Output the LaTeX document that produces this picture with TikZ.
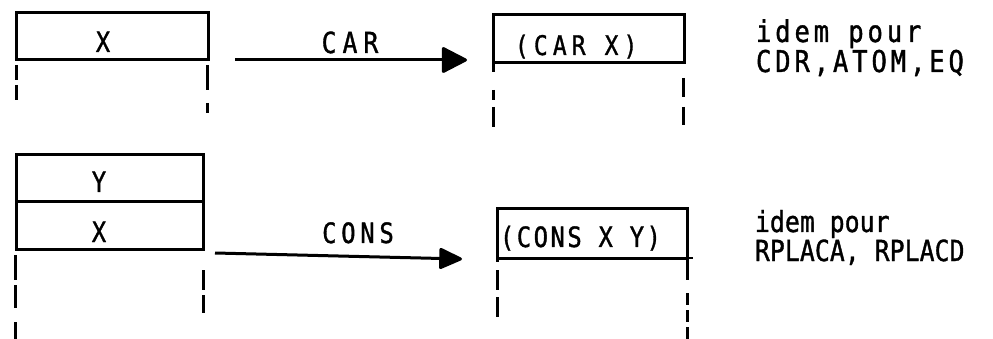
\documentclass[tikz,border=0pt]{standalone}
\usepackage{fontspec}
\usetikzlibrary{arrows.meta,calc}
\newfontfamily\twA[FakeStretch=0.85,FakeBold=1.2]{DejaVu Sans Mono}
\newfontfamily\twB[FakeStretch=0.85,FakeBold=1.2,LetterSpace=9]{DejaVu Sans Mono}
\newfontfamily\twC[FakeStretch=0.85,FakeBold=1.2,LetterSpace=13]{DejaVu Sans Mono}
\newfontfamily\twD[FakeStretch=0.85,FakeBold=1.2,LetterSpace=19]{DejaVu Sans Mono}
\newfontfamily\twE[FakeStretch=0.85,FakeBold=1.2,LetterSpace=21]{DejaVu Sans Mono}
\newfontfamily\twF[FakeStretch=0.85,FakeBold=1.2,LetterSpace=17]{DejaVu Sans Mono}
\newfontfamily\twG[FakeStretch=0.85,FakeBold=1.2,LetterSpace=0.5]{DejaVu Sans Mono}
\begin{document}
\begin{tikzpicture}[x=1pt,y=-1pt,
  cell/.style={draw,line width=3pt,inner sep=0pt,outer sep=0pt},
  lbl/.style={inner sep=0pt,outer sep=0pt,anchor=base},
  lblw/.style={inner sep=0pt,outer sep=0pt,anchor=base west,align=left},
  ext/.style={line width=3pt},
  dsh/.style={line width=3pt},
  arr/.style={line width=3pt,-{Triangle[length=27pt,width=27pt,round]}}]
\useasboundingbox (0,0) rectangle (993,339);
% ---------- top row ----------
\node[cell,minimum width=192pt,minimum height=47pt] (bx) at (112,36.5) {};
\node[lbl,font=\twA\fontsize{28}{32}\selectfont] (tx) at (103,52) {X};
\draw[dsh,dash pattern=on 15pt off 5pt] (16,65) -- (16,100);
\draw[dsh,dash pattern=on 25pt off 13pt] (207,65) -- (207,113);

\coordinate (carS) at (235,60);
\coordinate (carE) at (467,60);
\draw[arr] (carS) -- (carE);
\node[lbl,font=\twE\fontsize{29}{33}\selectfont] (tcar) at (350,53) {CAR};

\node[cell,minimum width=191pt,minimum height=48pt] (bcar) at (588.5,39) {};
\draw[ext] (bcar.south west) -- ++(0,9);
\node[lblw,font=\twD\fontsize{27}{31}\selectfont] (tcarx) at (515,55) {(CAR X)};
\draw[dsh,dash pattern=on 10pt off 7pt on 20pt off 3pt] (493,90) -- (493,127);
\draw[dsh,dash pattern=on 19pt off 10pt] (683,78) -- (683,125);

\node[lblw,font=\twC\fontsize{30}{34}\selectfont] (idem1) at (756,42) {idem pour};
\node[lblw,font=\twC\fontsize{30}{34}\selectfont] (cdr) at (756,72) {CDR,ATOM,EQ};

% ---------- bottom row ----------
\node[cell,minimum width=187pt,minimum height=47pt] (by) at (109.5,178.5) {};
\node[cell,minimum width=187pt,minimum height=47pt] (bx2) at (109.5,225.5) {};
\node[lbl,font=\twA\fontsize{28}{32}\selectfont] (ty) at (99,192) {Y};
\node[lbl,font=\twA\fontsize{28}{32}\selectfont] (tx2) at (99,242) {X};
\draw[dsh,dash pattern=on 25pt off 5pt on 23pt off 14pt] (15,255) -- (15,339);
\draw[dsh,dash pattern=on 20pt off 5pt] (203,270) -- (203,313);

\coordinate (consS) at (215,253);
\coordinate (consE) at (462,259);
\draw[arr,-{Triangle[length=25pt,width=22pt,round]}] (consS) -- (consE);
\node[lbl,font=\twF\fontsize{28}{32}\selectfont] (tcons) at (358,243) {CONS};

\node[cell,minimum width=190pt,minimum height=49pt] (bcons) at (592,233.5) {};
\draw[ext] (bcons.south west) -- ++(0,4);
\draw[ext] (bcons.south east) -- ++(0,22);
\draw[line width=2pt] (bcons.south east) -- ++(6,0);
\node[lblw,font=\twB\fontsize{28}{32}\selectfont] (tconsxy) at (500,247) {(CONS X Y)};
\draw[dsh,dash pattern=on 20pt off 7pt] (497,270) -- (497,323);
\draw[dsh,dash pattern=on 12pt off 5pt] (687,293) -- (687,339);

\node[lblw,font=\twG\fontsize{29}{33}\selectfont] (idem2) at (755,232) {idem pour};
\node[lblw,font=\twG\fontsize{29}{33}\selectfont] (rpl) at (755,261) {RPLACA, RPLACD};
\end{tikzpicture}
\end{document}
